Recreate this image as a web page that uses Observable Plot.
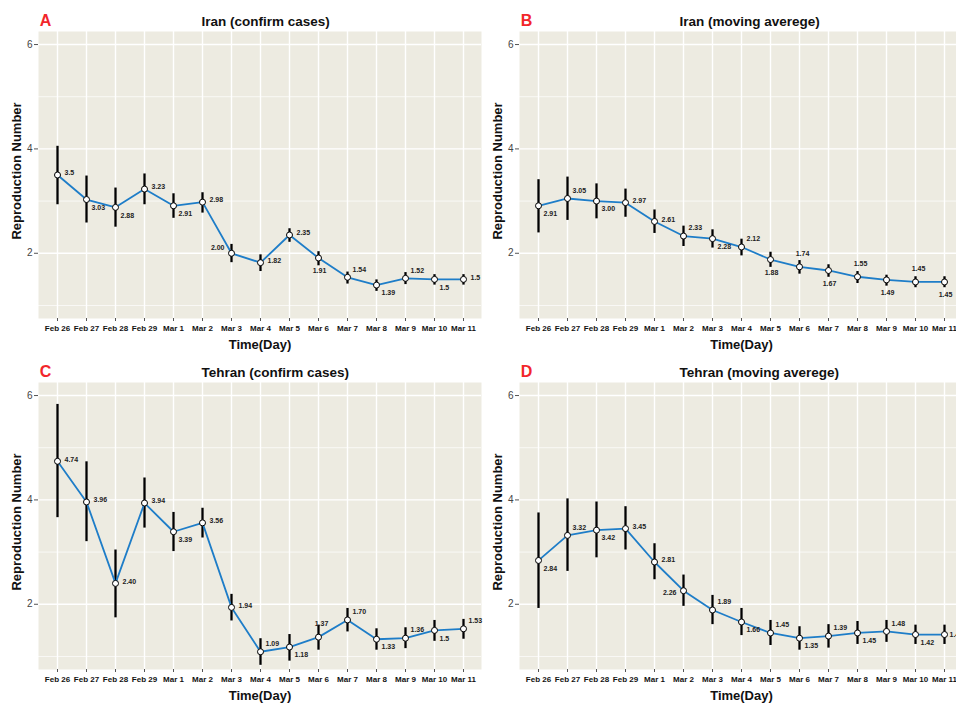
<!DOCTYPE html>
<html>
<head>
<meta charset="utf-8">
<script src="https://cdn.jsdelivr.net/npm/d3@7"></script>
<script src="https://cdn.jsdelivr.net/npm/@observablehq/plot@0.6"></script>
<style>
  html, body { margin: 0; padding: 0; background: #fff; overflow: hidden; }
  #wrap { position: relative; width: 956px; height: 703px; overflow: hidden; background: #fff; }
  #wrap > svg { position: absolute; max-width: none !important; }
</style>
</head>
<body>
<div id="wrap"></div>
<script>
const days = ["Feb 26","Feb 27","Feb 28","Feb 29","Mar 1","Mar 2","Mar 3","Mar 4","Mar 5","Mar 6","Mar 7","Mar 8","Mar 9","Mar 10","Mar 11"];
const yMajorTicks = [2, 4, 6];
const yMinorTicks = [1, 3, 5];

// A: Iran (confirm cases)
const iranConfirmR  = [3.50, 3.03, 2.88, 3.23, 2.91, 2.98, 2.00, 1.82, 2.35, 1.91, 1.54, 1.39, 1.52, 1.50, 1.50];
const iranConfirmLo = [2.93, 2.58, 2.50, 2.93, 2.67, 2.77, 1.82, 1.65, 2.21, 1.76, 1.41, 1.27, 1.40, 1.39, 1.39];
const iranConfirmHi = [4.05, 3.48, 3.25, 3.52, 3.14, 3.16, 2.17, 1.97, 2.47, 2.03, 1.64, 1.49, 1.63, 1.59, 1.59];
const iranConfirmLabel = ["3.5","3.03","2.88","3.23","2.91","2.98","2.00","1.82","2.35","1.91","1.54","1.39","1.52","1.5","1.5"];
const iranConfirmLabelPos = ["r","br","br","r","br","r","tl","r","r","b","tr","br","tr","br","r"];

// B: Iran (moving averege)
const iranMovingR  = [2.91, 3.05, 3.00, 2.97, 2.61, 2.33, 2.28, 2.12, 1.88, 1.74, 1.67, 1.55, 1.49, 1.45, 1.45];
const iranMovingLo = [2.39, 2.63, 2.66, 2.69, 2.38, 2.13, 2.10, 1.95, 1.73, 1.60, 1.54, 1.42, 1.37, 1.34, 1.34];
const iranMovingHi = [3.41, 3.46, 3.33, 3.23, 2.83, 2.52, 2.45, 2.27, 2.02, 1.86, 1.78, 1.65, 1.58, 1.55, 1.55];
const iranMovingLabel = ["2.91","3.05","3.00","2.97","2.61","2.33","2.28","2.12","1.88","1.74","1.67","1.55","1.49","1.45","1.45"];
const iranMovingLabelPos = ["br","tr","br","r","r","tr","br","tr","b","t","b","t","b","t","b"];

// C: Tehran (confirm cases)
const tehranConfirmR  = [4.74, 3.96, 2.40, 3.94, 3.39, 3.56, 1.94, 1.09, 1.18, 1.37, 1.70, 1.33, 1.35, 1.50, 1.53];
const tehranConfirmLo = [3.66, 3.20, 1.74, 3.46, 3.01, 3.27, 1.68, 0.83, 0.91, 1.12, 1.47, 1.12, 1.15, 1.29, 1.33];
const tehranConfirmHi = [5.83, 4.73, 3.04, 4.42, 3.76, 3.84, 2.19, 1.34, 1.42, 1.60, 1.92, 1.53, 1.55, 1.69, 1.71];
const tehranConfirmLabel = ["4.74","3.96","2.40","3.94","3.39","3.56","1.94","1.09","1.18","1.37","1.70","1.33","1.36","1.5","1.53"];
const tehranConfirmLabelPos = ["r","r","r","r","br","r","r","tr","br","t","tr","br","tr","br","tr"];

// D: Tehran (moving averege)
const tehranMovingR  = [2.84, 3.32, 3.42, 3.45, 2.81, 2.26, 1.89, 1.66, 1.45, 1.35, 1.39, 1.45, 1.48, 1.42, 1.42];
const tehranMovingLo = [1.92, 2.63, 2.89, 3.04, 2.47, 1.96, 1.61, 1.40, 1.21, 1.12, 1.16, 1.23, 1.27, 1.23, 1.23];
const tehranMovingHi = [3.75, 4.02, 3.96, 3.87, 3.16, 2.56, 2.17, 1.92, 1.69, 1.57, 1.61, 1.67, 1.69, 1.60, 1.60];
const tehranMovingLabel = ["2.84","3.32","3.42","3.45","2.81","2.26","1.89","1.66","1.45","1.35","1.39","1.45","1.48","1.42","1.42"];
const tehranMovingLabelPos = ["br","tr","br","r","r","l","tr","br","tr","br","tr","br","tr","br","rr"];

const BG = "#EDEBE1";
const LINE = "#1E7DC8";
const FONT = "'Liberation Sans', Arial, Helvetica, sans-serif";

const posStyle = {
  r:  {dx: 7,  dy: -2,  textAnchor: "start"},
  rr: {dx: 5,  dy: 0,   textAnchor: "start"},
  br: {dx: 5,  dy: 8,   textAnchor: "start"},
  tr: {dx: 5,  dy: -8,  textAnchor: "start"},
  tl: {dx: -7, dy: -6,  textAnchor: "end"},
  l:  {dx: -7, dy: 2,   textAnchor: "end"},
  t:  {dx: 3,  dy: -13, textAnchor: "middle"},
  b:  {dx: 1,  dy: 13,  textAnchor: "middle"}
};

function panel({letter, title, r, lo, hi, labels, pos, left, top, marginLeft, width}) {
  const data = days.map((d, i) => ({day: d, r: r[i], lo: lo[i], hi: hi[i], label: labels[i], pos: pos[i]}));
  const height = 352, marginTop = 31, marginBottom = 34;
  const labelMarks = Object.entries(posStyle).map(([k, s]) =>
    Plot.text(data.filter(d => d.pos === k), {
      x: "day", y: "r", text: "label", dx: s.dx, dy: s.dy, textAnchor: s.textAnchor,
      fontSize: 7, fontWeight: "bold", fill: "#222"
    })
  );
  const svg = Plot.plot({
    width, height, marginLeft, marginRight: 0, marginTop, marginBottom,
    style: {fontFamily: FONT, background: "transparent", overflow: "visible"},
    x: {type: "point", domain: days, padding: 0.6, axis: null},
    y: {domain: [0.75, 6.25], axis: null},
    marks: [
      Plot.frame({fill: BG, stroke: null}),
      Plot.ruleY(yMinorTicks, {stroke: "white", strokeWidth: 0.7}),
      Plot.ruleY(yMajorTicks, {stroke: "white", strokeWidth: 1.4}),
      Plot.ruleX(days, {x: d => d, stroke: "white", strokeWidth: 1.4}),
      Plot.axisX({tickSize: 3, tickPadding: 4, stroke: "#555", fontSize: 8, fontWeight: "bold", fill: "#111", label: null}),
      Plot.axisY(yMajorTicks, {tickSize: 4, tickPadding: 2, tickFormat: d => String(d), stroke: "#555", fontSize: 10, fill: "#444", label: null}),
      Plot.ruleX(data, {x: "day", y1: "lo", y2: "hi", stroke: "black", strokeWidth: 2.3}),
      Plot.line(data, {x: "day", y: "r", stroke: LINE, strokeWidth: 1.8}),
      Plot.dot(data, {x: "day", y: "r", r: 3, fill: "white", stroke: "black", strokeWidth: 1}),
      ...labelMarks,
      Plot.text([letter], {text: d => d, frameAnchor: "top-left", dx: 7, dy: -11, textAnchor: "middle", lineAnchor: "middle", fontSize: 16, fontWeight: "bold", fill: "#F2262A"}),
      Plot.text([title], {text: d => d, frameAnchor: "top-left", dx: 201 - marginLeft, dy: -10, textAnchor: "start", lineAnchor: "middle", fontSize: 13.5, fontWeight: "bold", fill: "#111"}),
      Plot.text(["Reproduction Number"], {text: d => d, frameAnchor: "left", dx: -22, dy: -4, rotate: -90, textAnchor: "middle", lineAnchor: "middle", fontSize: 13, fontWeight: "bold", fill: "#111"}),
      Plot.text(["Time(Day)"], {text: d => d, frameAnchor: "bottom", dy: 26, textAnchor: "middle", lineAnchor: "middle", fontSize: 13, fontWeight: "bold", fill: "#111"})
    ]
  });
  svg.style.left = left + "px";
  svg.style.top = top + "px";
  return svg;
}

const wrap = document.getElementById("wrap");
wrap.appendChild(panel({letter: "A", title: "Iran (confirm cases)", r: iranConfirmR, lo: iranConfirmLo, hi: iranConfirmHi, labels: iranConfirmLabel, pos: iranConfirmLabelPos, left: 0, top: 0, marginLeft: 38, width: 481}));
wrap.appendChild(panel({letter: "B", title: "Iran (moving averege)", r: iranMovingR, lo: iranMovingLo, hi: iranMovingHi, labels: iranMovingLabel, pos: iranMovingLabelPos, left: 478, top: 0, marginLeft: 41, width: 485}));
wrap.appendChild(panel({letter: "C", title: "Tehran (confirm cases)", r: tehranConfirmR, lo: tehranConfirmLo, hi: tehranConfirmHi, labels: tehranConfirmLabel, pos: tehranConfirmLabelPos, left: 0, top: 351, marginLeft: 38, width: 481}));
wrap.appendChild(panel({letter: "D", title: "Tehran (moving averege)", r: tehranMovingR, lo: tehranMovingLo, hi: tehranMovingHi, labels: tehranMovingLabel, pos: tehranMovingLabelPos, left: 478, top: 351, marginLeft: 41, width: 485}));
</script>
</body>
</html>
